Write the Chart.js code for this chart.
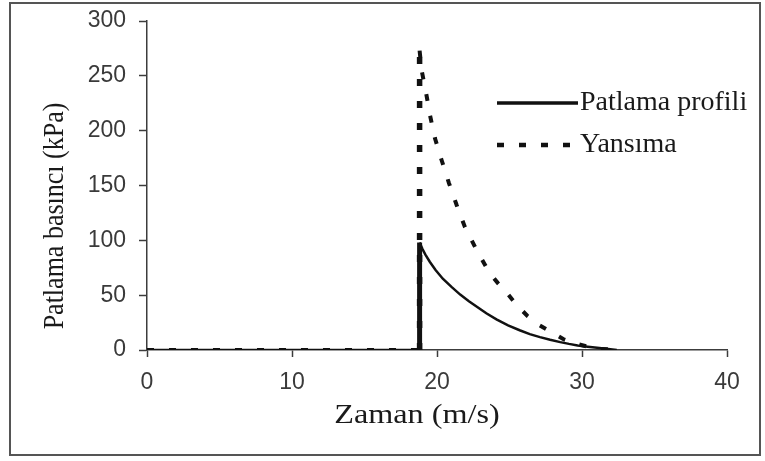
<!DOCTYPE html>
<html>
<head>
<meta charset="utf-8">
<script src="https://cdn.jsdelivr.net/npm/chart.js@4.4.1/dist/chart.umd.min.js"></script>
<style>
  html, body { margin: 0; padding: 0; background: #fff; }
  canvas { display: block; }
</style>
</head>
<body>
<canvas id="blast" width="765" height="461"></canvas>
<script>
// Blast pressure profile vs. time
const profileTime     = [0, 18.8, 18.8, 19.0, 19.2, 19.5, 19.9, 20.4, 21.0, 21.6, 22.2, 22.8, 23.4, 24.1, 24.9, 25.7, 26.4, 27.1, 27.8, 28.5, 29.1, 29.7, 30.4, 31.2, 31.8, 32.4];
const profilePressure = [0, 0,    98,   92,   87,   80.5, 73,   65,   57.5, 50.5, 44.5, 39,   33.5, 28,   22.5, 18,   14.5, 11.7, 9.3,  7.2,  5.6,  4.2,  3,    1.8,  0.9,  0];

// Reflected pressure vs. time
const reflectTime     = [0, 18.8, 18.8, 18.94, 19.24, 19.52, 19.86, 20.32, 20.83, 21.36, 21.93, 22.74, 23.59, 24.2, 24.83, 25.5, 26.24, 27.0, 27.93, 28.7, 29.52, 30.4, 31.24, 32.6];
const reflectPressure = [0, 0,    273,  255,   235,   214,   193,   173,   152,   132,   112,   91,    71,    61,   52,    41,   31,    23,   16,    10,   6,     3,    1,     0];

const seriesNames = ['Patlama profili', 'Yansıma'];
const xTickValues = [0, 10, 20, 30, 40];
const yTickValues = [0, 50, 100, 150, 200, 250, 300];
const xTitle = 'Zaman (m/s)';
const yTitle = 'Patlama basıncı (kPa)';

const toPoints = (xs, ys) => xs.map((x, i) => ({ x: x, y: ys[i] }));

const INK = '#111111';
const AXIS = '#3c3c3c';
const SERIF = '"Liberation Serif", "Times New Roman", serif';
const SANS = '"Liberation Sans", Arial, sans-serif';

// the rise at the onset time is drawn heavier than the decay
const isRise = (c) => c.p0.parsed.x === c.p1.parsed.x;

// Frame, axis titles and legend drawn on top of the plot
const decor = {
  id: 'decor',
  beforeDraw(chart) {
    const ctx = chart.ctx;
    ctx.save();
    ctx.fillStyle = '#ffffff';
    ctx.fillRect(0, 0, chart.width, chart.height);
    ctx.restore();
  },
  afterDraw(chart) {
    const ctx = chart.ctx;
    ctx.save();

    // outer frame
    ctx.strokeStyle = '#555555';
    ctx.lineWidth = 2;
    ctx.strokeRect(10, 3, 750, 452);

    ctx.fillStyle = '#1a1a1a';
    ctx.textAlign = 'center';
    ctx.textBaseline = 'middle';

    // y axis title
    ctx.save();
    ctx.font = '26px ' + SERIF;
    ctx.translate(55, 216);
    ctx.rotate(-Math.PI / 2);
    ctx.scale(1, 1.1);
    ctx.fillText(yTitle, 0, 0);
    ctx.restore();

    // x axis title
    ctx.save();
    ctx.font = '28px ' + SERIF;
    ctx.translate(417, 416);
    ctx.scale(1.15, 1);
    ctx.fillText(xTitle, 0, 0);
    ctx.restore();

    // legend
    const rows = [103, 145];
    ctx.textAlign = 'left';
    ctx.font = '28px ' + SERIF;
    chart.data.datasets.forEach((ds, i) => {
      const y = rows[i];
      ctx.save();
      ctx.strokeStyle = ds.borderColor;
      ctx.lineWidth = ds.legendWidth;
      ctx.setLineDash(ds.borderDash || []);
      ctx.beginPath();
      ctx.moveTo(497, y);
      ctx.lineTo(578, y);
      ctx.stroke();
      ctx.restore();
      ctx.fillText(ds.label, 580, y);
    });

    ctx.restore();
  }
};

new Chart(document.getElementById('blast'), {
  type: 'line',
  data: {
    datasets: [
      {
        label: seriesNames[0],
        data: toPoints(profileTime, profilePressure),
        borderColor: INK,
        borderWidth: 2.5,
        legendWidth: 3.5,
        segment: { borderWidth: c => isRise(c) ? 5 : 2.5 },
        pointRadius: 0,
        tension: 0,
        fill: false
      },
      {
        label: seriesNames[1],
        data: toPoints(reflectTime, reflectPressure),
        borderColor: INK,
        borderWidth: 4,
        legendWidth: 4.5,
        borderDash: [7, 15],
        segment: { borderWidth: c => isRise(c) ? 5.5 : 4 },
        pointRadius: 0,
        tension: 0,
        fill: false
      }
    ]
  },
  options: {
    responsive: false,
    animation: false,
    devicePixelRatio: 1,
    layout: { padding: { left: 0, right: 38, top: 21, bottom: 0 } },
    plugins: {
      legend: { display: false },
      tooltip: { enabled: false }
    },
    scales: {
      x: {
        type: 'linear',
        min: 0,
        max: 40,
        afterBuildTicks(scale) { scale.ticks = xTickValues.map(v => ({ value: v })); },
        afterFit(scale) { scale.height = 111; scale.paddingLeft = 0; scale.paddingRight = 0; },
        grid: { display: true, drawOnChartArea: false, drawTicks: true, tickLength: 7, tickColor: AXIS, tickWidth: 1.5 },
        border: { display: true, color: AXIS, width: 1.5 },
        ticks: { color: '#3a3a3a', font: { family: SANS, size: 23 }, padding: 12, maxRotation: 0 }
      },
      y: {
        type: 'linear',
        min: 0,
        max: 300,
        afterBuildTicks(scale) { scale.ticks = yTickValues.map(v => ({ value: v })); },
        afterFit(scale) { scale.width = 147; scale.paddingTop = 0; scale.paddingBottom = 0; },
        grid: { display: true, drawOnChartArea: false, drawTicks: true, tickLength: 8, tickColor: AXIS, tickWidth: 1.5 },
        border: { display: true, color: AXIS, width: 1.5 },
        ticks: { color: '#3a3a3a', font: { family: SANS, size: 23 }, padding: 13 }
      }
    }
  },
  plugins: [decor]
});
</script>
</body>
</html>
